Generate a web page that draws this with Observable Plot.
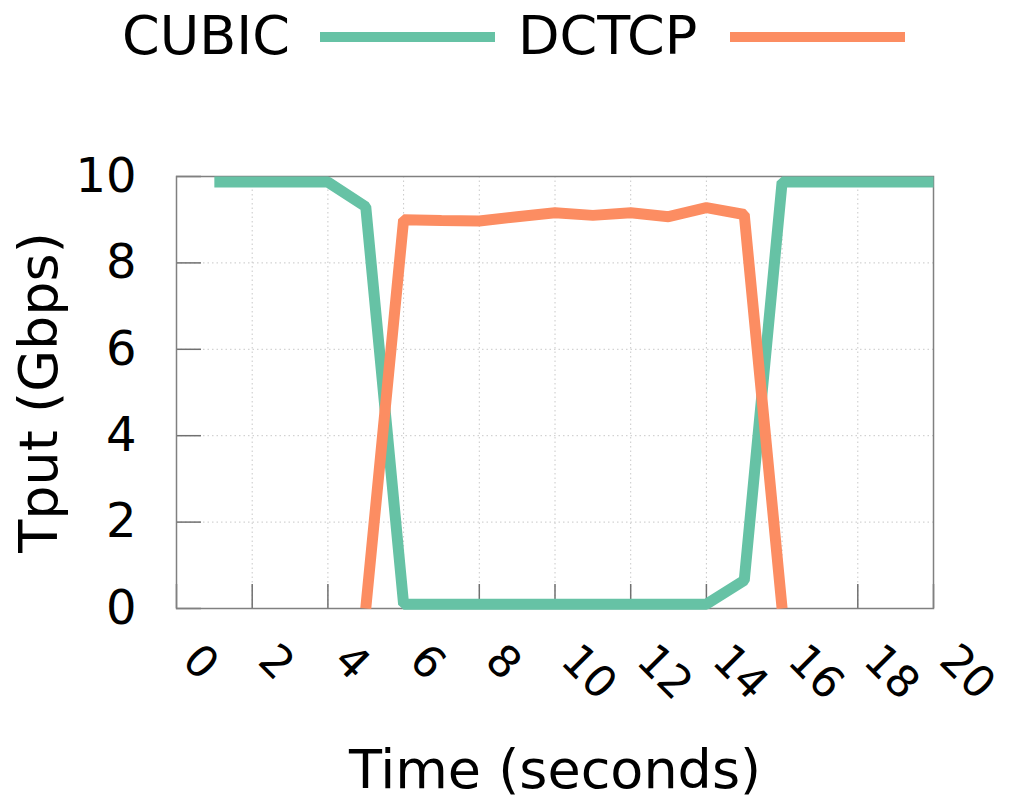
<!DOCTYPE html>
<html><head><meta charset="utf-8">
<script src="https://cdn.jsdelivr.net/npm/d3@7"></script>
<script src="https://cdn.jsdelivr.net/npm/@observablehq/plot@0.6"></script>
<style>
body{margin:0;background:#fff;font-family:"DejaVu Sans",sans-serif;}
#legend{position:relative;width:1009px;height:80px;}
.lgt{position:absolute;top:9px;font-size:54px;line-height:54px;color:#000;white-space:nowrap;}
.lgl{position:absolute;top:32px;height:10px;width:175px;}
#chart svg{display:block;}
</style></head><body>
<div id="legend"></div><div id="chart"></div>
<script>
const seriesNames = ["CUBIC", "DCTCP"];
const seriesColors = ["#66c2a5", "#fc8d62"];
const cubicTime = [1,2,3,4,5,6,7,8,9,10,11,12,13,14,15,16,17,18,19,20];
const cubicTput = [9.87,9.87,9.87,9.87,9.3,0.1,0.1,0.1,0.1,0.1,0.1,0.1,0.1,0.1,0.65,9.87,9.87,9.87,9.87,9.87];
const dctcpTime = [5,6,7,8,9,10,11,12,13,14,15,16];
const dctcpTput = [0,9.0,8.98,8.97,9.07,9.16,9.1,9.16,9.07,9.28,9.12,0];
const xTicks = [0,2,4,6,8,10,12,14,16,18,20];
const yTicks = [0,2,4,6,8,10];
const xLabel = "Time (seconds)";
const yLabel = "Tput (Gbps)";

// legend
const legend = document.getElementById("legend");
const legendPos = [{t:122, l:320}, {t:518, l:730}];
seriesNames.forEach((n, i) => {
  const t = document.createElement("div"); t.className = "lgt"; t.style.left = legendPos[i].t + "px"; t.textContent = n; legend.appendChild(t);
  const l = document.createElement("div"); l.className = "lgl"; l.style.left = legendPos[i].l + "px"; l.style.background = seriesColors[i]; legend.appendChild(l);
});

const data = [
  ...cubicTime.map((t, i) => ({series: "CUBIC", t, v: cubicTput[i]})),
  ...dctcpTime.map((t, i) => ({series: "DCTCP", t, v: dctcpTput[i]}))
];

const W = 1009, H = 724, mT = 96, mB = 196, mL = 176, mR = 76;
const innerW = W - mL - mR, innerH = H - mT - mB;

const chart = Plot.plot({
  width: W, height: H,
  marginTop: mT, marginBottom: mB, marginLeft: mL, marginRight: mR,
  style: {fontFamily: "DejaVu Sans", background: "#fff", color: "#000", overflow: "visible"},
  x: {domain: [0, 20], axis: null},
  y: {domain: [0, 10], axis: null},
  color: {domain: seriesNames, range: seriesColors},
  marks: [
    Plot.ruleX(xTicks.filter(d => d > 0 && d < 20), {x: d => d, stroke: "#c8c8c8", strokeWidth: 1, strokeDasharray: "1.5,3"}),
    Plot.ruleY(yTicks.filter(d => d > 0 && d < 10), {y: d => d, stroke: "#c8c8c8", strokeWidth: 1, strokeDasharray: "1.5,3"}),
    Plot.tickX(xTicks, {x: d => d, insetTop: innerH - 24, stroke: "#707070", strokeWidth: 1.5}),
    Plot.tickY(yTicks, {y: d => d, insetRight: innerW - 25, stroke: "#707070", strokeWidth: 1.5}),
    Plot.frame({stroke: "#808080", strokeWidth: 1.5}),
    Plot.line(data, {x: "t", y: "v", z: "series", stroke: "series", strokeWidth: 11, strokeLinejoin: "miter", strokeLinecap: "butt", clip: false}),
    Plot.text(xTicks, {x: d => d, frameAnchor: "bottom", text: d => String(d), rotate: 45, textAnchor: "start", lineAnchor: "bottom", dx: 4, dy: 54, fontSize: 44, fill: "#000"}),
    Plot.text(yTicks, {y: d => d, frameAnchor: "left", text: d => String(d), textAnchor: "end", lineAnchor: "middle", dx: -40, fontSize: 48, fill: "#000"}),
    Plot.text([yLabel], {frameAnchor: "left", textAnchor: "middle", lineAnchor: "middle", dx: -137, rotate: -90, fontSize: 54, fill: "#000"}),
    Plot.text([xLabel], {frameAnchor: "bottom", textAnchor: "middle", lineAnchor: "middle", dy: 162, fontSize: 54, fill: "#000"})
  ]
});
document.getElementById("chart").appendChild(chart);
</script>
</body></html>
